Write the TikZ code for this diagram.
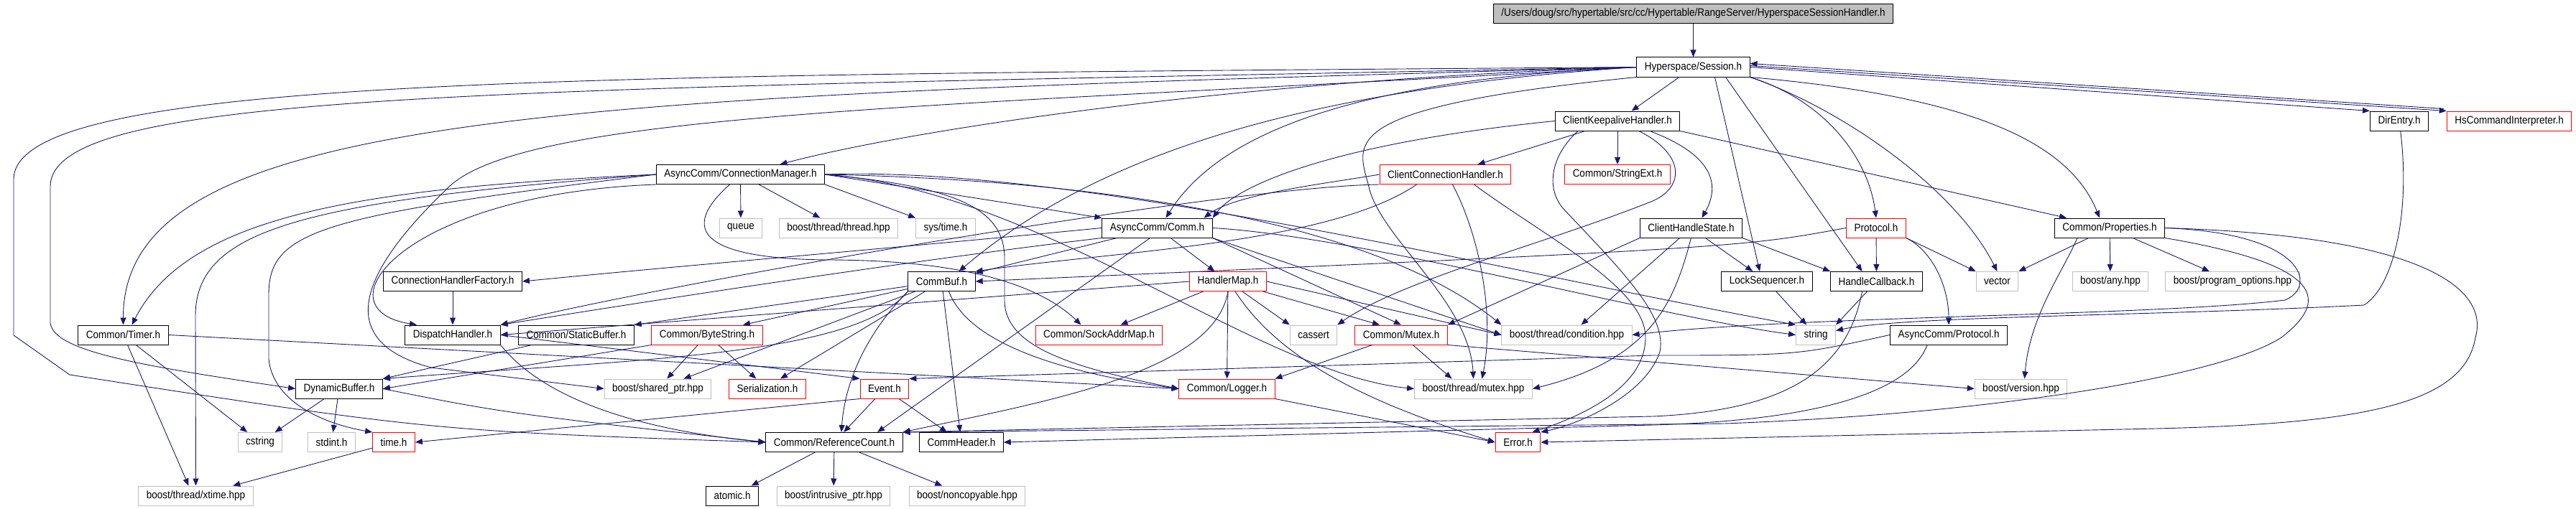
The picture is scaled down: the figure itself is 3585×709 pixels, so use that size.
\documentclass[tikz,border=0pt]{standalone}
\usepackage{fontspec}
\setmainfont{Liberation Sans}[FakeStretch=0.9]
\usepackage{tikz}
\usetikzlibrary{arrows.meta}
\definecolor{edgec}{HTML}{191970}
\definecolor{sysc}{HTML}{BFBFBF}
\definecolor{redc}{HTML}{FF0000}
\tikzset{
  hbox/.style={draw=black,line width=1pt,minimum height=27pt,inner xsep=11pt,inner ysep=0pt,font=\fontsize{15}{16}\selectfont},
  rbox/.style={hbox,draw=redc},
  gbox/.style={hbox,draw=sysc},
  tbox/.style={hbox,fill=sysc},
  dep/.style={-{Triangle[length=10pt,width=8pt]},edgec,line width=0.9pt}
}
\begin{document}
\begin{tikzpicture}[x=1pt,y=-1pt]
\useasboundingbox (0,0) rectangle (3585,709);
\node[tbox] (root) at (2356.5,19) {/Users/doug/src/hypertable/src/cc/Hypertable/RangeServer/HyperspaceSessionHandler.h};
\node[hbox] (s) at (2356.5,93.5) {Hyperspace/Session.h};
\node[hbox] (ckh) at (2251,168.5) {ClientKeepaliveHandler.h};
\node[hbox] (de) at (3339,168.5) {DirEntry.h};
\node[rbox] (hci) at (3492,168.5) {HsCommandInterpreter.h};
\node[hbox] (cm) at (1030.5,243) {AsyncComm/ConnectionManager.h};
\node[rbox] (cch) at (2011.5,243) {ClientConnectionHandler.h};
\node[rbox] (se) at (2251,243) {Common/StringExt.h};
\node[gbox] (qu) at (1031,317.5) {queue};
\node[gbox] (thr) at (1167,317.5) {boost/thread/thread.hpp};
\node[gbox] (sys) at (1316,317.5) {sys/time.h};
\node[hbox] (co) at (1610.5,317.5) {AsyncComm/Comm.h};
\node[hbox] (chs) at (2353.5,317.5) {ClientHandleState.h};
\node[rbox] (pt) at (2611,317.5) {Protocol.h};
\node[hbox] (pr) at (2936,317.5) {Common/Properties.h};
\node[hbox] (chf) at (630,392) {ConnectionHandlerFactory.h};
\node[hbox] (cb) at (1310.5,392) {CommBuf.h};
\node[rbox] (hm) at (1709,392) {HandlerMap.h};
\node[hbox] (ls) at (2459,392) {LockSequencer.h};
\node[hbox] (hc) at (2611.5,392) {HandleCallback.h};
\node[gbox] (ve) at (2779.5,392) {vector};
\node[gbox] (any) at (2937,392) {boost/any.hpp};
\node[gbox] (po) at (3107,392) {boost/program\_options.hpp};
\node[hbox] (ti) at (171.5,466.5) {Common/Timer.h};
\node[hbox] (dh) at (630,466.5) {DispatchHandler.h};
\node[hbox] (sb) at (802,466.5) {Common/StaticBuffer.h};
\node[rbox] (bs) at (984,466.5) {Common/ByteString.h};
\node[rbox] (sam) at (1529.5,466.5) {Common/SockAddrMap.h};
\node[gbox] (cas) at (1828,466.5) {cassert};
\node[rbox] (mu) at (1950,466.5) {Common/Mutex.h};
\node[gbox] (cond) at (2180.5,466.5) {boost/thread/condition.hpp};
\node[gbox] (st) at (2527,466.5) {string};
\node[hbox] (acp) at (2712,466.5) {AsyncComm/Protocol.h};
\node[hbox] (db) at (472,541.5) {DynamicBuffer.h};
\node[gbox] (sp) at (915.5,541.5) {boost/shared\_ptr.hpp};
\node[rbox] (ser) at (1068,541.5) {Serialization.h};
\node[rbox] (ev) at (1231,541.5) {Event.h};
\node[rbox] (lg) at (1707.5,541.5) {Common/Logger.h};
\node[gbox] (bmx) at (2050.5,541.5) {boost/thread/mutex.hpp};
\node[gbox] (ver) at (2812.5,541.5) {boost/version.hpp};
\node[gbox] (cstr) at (362,616) {cstring};
\node[gbox] (std) at (461.5,616) {stdint.h};
\node[rbox] (tmh) at (548,616) {time.h};
\node[hbox] (rc) at (1161,616) {Common/ReferenceCount.h};
\node[hbox] (ch) at (1338,616) {CommHeader.h};
\node[rbox] (err) at (2112.5,616) {Error.h};
\node[gbox] (xt) at (272.5,690.5) {boost/thread/xtime.hpp};
\node[hbox] (at) at (1019,690.5) {atomic.h};
\node[gbox] (ip) at (1160,690.5) {boost/intrusive\_ptr.hpp};
\node[gbox] (nc) at (1346,690.5) {boost/noncopyable.hpp};

\draw[dep] (root) -- (s);
\draw[dep] (s) -- (ckh);
\draw[dep] (s.east) -- (de.north west);
\draw[dep] ([yshift=2pt]s.east) -- (hci.north west);
\draw[dep] ([xshift=-4pt,yshift=3pt]hci.north west) -- ([yshift=5pt]s.east);
\draw[dep] (s.west) .. controls (1700,112) and (1250,185) .. ([xshift=55pt]cm.north);
\draw[dep] (s.west) .. controls (800,105) and (19,105) .. (19,250) -- (19,467) -- (97,522) .. controls (600,600) .. (rc.west);
\draw[dep] (s.west) .. controls (700,125) and (70,125) .. (70,260) -- (70,450) .. controls (75,490) and (200,510) .. (db.west);
\draw[dep] (s.west) .. controls (800,135) and (171,150) .. (ti.north);
\draw[dep] (s.west) .. controls (1300,150) and (720,155) .. (620,265) .. controls (480,400) and (480,480) .. (600,512) -- (sp.west);
\draw[dep] (s.west) .. controls (1900,110) and (1700,180) .. ([xshift=12pt]co.north);
\draw[dep] (s.west) .. controls (1800,125) and (1520,220) .. ([xshift=24pt]cb.north);
\draw[dep] (s.south west) .. controls (1850,150) and (1890,200) .. (1905,260) .. controls (1920,330) and (2045,420) .. (bmx.north);
\draw[dep] (s.south east) .. controls (2540,140) and (2600,220) .. (pt.north);
\draw[dep] (s.south east) .. controls (2750,135) and (2880,200) .. ([xshift=-14pt]pr.north);
\draw[dep] (s.south east) .. controls (2560,150) and (2720,260) .. (ve.north);
\draw[dep] ([xshift=45pt]s.south) -- ([xshift=-20pt]hc.north);
\draw[dep] ([xshift=30pt]s.south) -- ([xshift=-10pt]ls.north);

\draw[dep] (ckh) -- ([xshift=45pt]cch.north);
\draw[dep] (ckh) -- (se);
\draw[dep] ([xshift=45pt]ckh.south) .. controls (2395,220) and (2390,265) .. ([xshift=15pt]chs.north);
\draw[dep] (ckh.south east) -- ([xshift=-60pt]pr.north);
\draw[dep] (ckh.west) .. controls (1850,200) and (1720,260) .. (co.north east);
\draw[dep] ([xshift=-55pt]ckh.south) .. controls (2160,215) and (2150,260) .. (2175,290) .. controls (2260,380) and (2320,440) .. (2310,490) .. controls (2290,550) and (2200,590) .. (err.north east);
\draw[dep] ([xshift=30pt]ckh.south) .. controls (2345,215) and (2345,260) .. (2300,280) .. controls (2150,340) and (1950,390) .. (cas.north east);

\draw[dep] (cch.west) .. controls (1850,255) and (1720,270) .. ([xshift=65pt]co.north);
\draw[dep] ([xshift=-40pt]cch.south) .. controls (1850,340) and (1550,350) .. (cb.north east);
\draw[dep] (cch.south west) .. controls (1700,260) and (900,400) .. (dh.north east);
\draw[dep] ([xshift=10pt]cch.south) .. controls (2060,330) and (2080,440) .. ([xshift=12pt]bmx.north);
\draw[dep] ([xshift=40pt]cch.south) .. controls (2150,330) and (2290,400) .. (2290,470) .. controls (2290,540) and (2200,580) .. ([xshift=20pt]err.north);

\draw[dep] (chs) -- (ls);
\draw[dep] (chs.south east) -- (hc.north west);
\draw[dep] (chs) -- ([xshift=20pt]cond.north);
\draw[dep] (chs.south west) -- (mu.north east);
\draw[dep] (chs.south) .. controls (2330,420) and (2300,500) .. (bmx.east);

\draw[dep] (pt) -- (hc);
\draw[dep] (pt.south east) -- (ve.north west);
\draw[dep] (pt.south east) .. controls (2690,350) and (2712,400) .. (acp.north);
\draw[dep] (pt.west) .. controls (2420,345) .. (cb.east);

\draw[dep] (pr) -- (ve.north east);
\draw[dep] (pr) -- (any);
\draw[dep] (pr) -- (po);
\draw[dep] ([xshift=-45pt]pr.south) .. controls (2870,380) and (2825,440) .. ([xshift=5pt]ver.north);
\draw[dep] (pr.east) .. controls (3210,325) and (3225,400) .. (3180,418) .. controls (3000,440) and (2500,440) .. (cond.east);
\draw[dep] (pr.east) .. controls (3420,330) and (3460,420) .. (3445,470) .. controls (3430,560) and (3300,590) .. (3000,597) -- (err.east);
\draw[dep] (pr.south east) .. controls (3240,370) and (3240,420) .. (3175,470) .. controls (3100,520) and (2800,575) .. (2400,590) -- (rc.north east);
\draw[dep] (de) .. controls (3355,300) and (3330,400) .. (3290,425) .. controls (3000,440) and (2650,440) .. ([yshift=6pt]st.east);

\draw[dep] (hc) -- (st.north east);
\draw[dep] ([xshift=-20pt]hc.south) .. controls (2570,520) and (2480,572) .. (2300,580) -- (rc.north east);
\draw[dep] (ls) -- (st);
\draw[dep] ([xshift=-30pt]acp.south) .. controls (2660,540) and (2550,585) .. (2300,592) -- (ch.east);
\draw[dep] (acp.west) .. controls (2500,495) .. (2300,495) -- (ev.north east);

\draw[dep] (co.west) .. controls (1250,345) and (950,370) .. (chf.east);
\draw[dep] (co) -- (cb);
\draw[dep] (co) -- (hm);
\draw[dep] (co.south west) .. controls (1250,365) and (900,420) .. (dh.north east);
\draw[dep] (co.south east) -- (mu.north);
\draw[dep] ([xshift=-10pt]co.south) -- ([xshift=60pt]rc.north);
\draw[dep] (co.east) .. controls (1900,330) and (2300,440) .. (st.west);
\draw[dep] (co.south east) -- (cond.west);

\draw[dep] (cm) -- (qu);
\draw[dep] (cm) -- (thr);
\draw[dep] (cm.south east) -- (sys.north west);
\draw[dep] (cm.east) -- (co.north west);
\draw[dep] (cm.west) .. controls (500,262) and (262,300) .. ([xshift=12pt]ti.north);
\draw[dep] (cm.west) .. controls (420,280) and (272,320) .. (272,440) -- (xt.north);
\draw[dep] (cm.west) .. controls (450,300) and (374,320) .. (374,410) -- (374,500) .. controls (380,560) and (450,590) .. (tmh.north west);
\draw[dep] (cm.south west) .. controls (560,270) and (440,430) .. ([xshift=-50pt]dh.north);
\draw[dep] ([xshift=-15pt]cm.south) .. controls (945,320) and (975,360) .. (1150,362) .. controls (1350,362) and (1450,400) .. ([xshift=-25pt]sam.north);
\draw[dep] (cm.east) .. controls (1500,230) and (2100,380) .. (st.north west);
\draw[dep] (cm.east) .. controls (1450,265) and (1750,520) .. (bmx.west);
\draw[dep] (cm.east) .. controls (1500,250) and (1900,300) .. (cond.north west);
\draw[dep] (cm.east) .. controls (1330,260) and (1398,290) .. (1398,360) -- (1398,420) .. controls (1400,480) and (1480,510) .. (lg.west);

\draw[dep] (chf) -- (dh);
\draw[dep] (dh.south east) .. controls (760,560) and (900,600) .. (rc.west);
\draw[dep] (dh.east) -- (ev.north west);
\draw[dep] (ti) -- ([xshift=-10pt]xt.north);
\draw[dep] (ti) -- (cstr);
\draw[dep] (ti.east) -- (lg.west);
\draw[dep] (db) -- (cstr);
\draw[dep] (db) -- (std);
\draw[dep] (db.east) .. controls (700,575) .. (rc.west);
\draw[dep] (tmh) -- (xt);
\draw[dep] (ev) -- (rc);
\draw[dep] (ev) -- (ch);
\draw[dep] (ev.south west) -- (tmh.east);
\draw[dep] (sb) -- (db.north east);
\draw[dep] (bs) -- (sp);
\draw[dep] (bs) -- (ser);
\draw[dep] (bs.south west) -- (db.east);

\draw[dep] (cb) -- (sb.north east);
\draw[dep] (cb) -- ([xshift=50pt]bs.north);
\draw[dep] (cb) -- ([xshift=36pt]sp.north);
\draw[dep] (cb) -- ([xshift=18pt]ser.north);
\draw[dep] (cb.south west) .. controls (1190,495) and (900,500) .. (db.north east);
\draw[dep] (cb.south west) .. controls (1200,470) and (1175,540) .. ([xshift=10pt]rc.north);
\draw[dep] (cb) -- (ch);
\draw[dep] ([xshift=10pt]cb.south) .. controls (1345,470) and (1450,515) .. (lg.west);

\draw[dep] (hm) -- ([xshift=30pt]sam.north);
\draw[dep] (hm) -- (lg);
\draw[dep] (hm) -- (cas.north west);
\draw[dep] (hm) -- ([xshift=-30pt]mu.north);
\draw[dep] (hm.south) .. controls (1690,520) and (1450,560) .. (rc.north east);
\draw[dep] ([xshift=10pt]hm.south) .. controls (1780,500) and (1900,560) .. (err.west);
\draw[dep] (hm.west) -- (dh.east);
\draw[dep] (hm.east) -- (cond.west);

\draw[dep] (mu) -- ([xshift=-30pt]bmx.north);
\draw[dep] (mu) -- (lg.north east);
\draw[dep] (mu.south east) -- (ver.west);
\draw[dep] (lg.south east) -- (err.west);

\draw[dep] (rc) -- (at);
\draw[dep] (rc) -- (ip);
\draw[dep] (rc) -- (nc);
\end{tikzpicture}
\end{document}
